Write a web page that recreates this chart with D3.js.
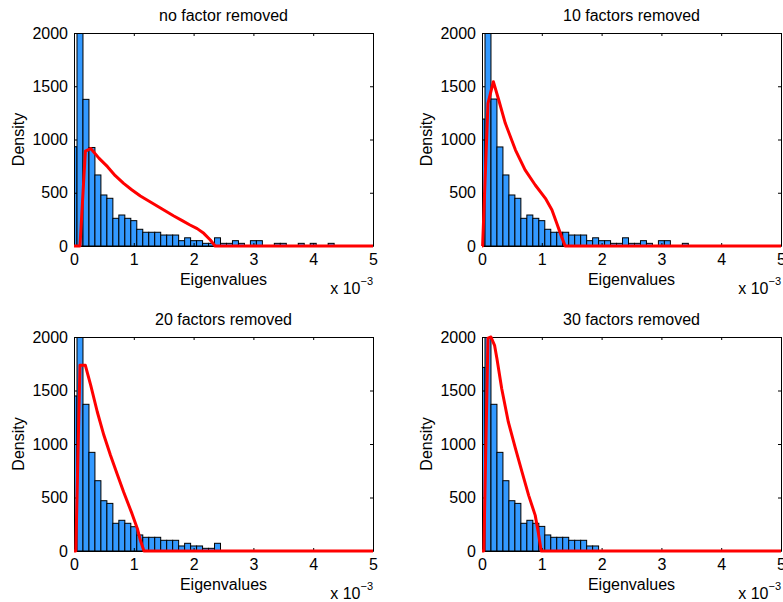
<!DOCTYPE html>
<html>
<head>
<meta charset="utf-8">
<script src="https://cdn.jsdelivr.net/npm/d3@7"></script>
<style>
  body { margin: 0; background: #fff; }
  svg { display: block; }
  text { font-family: "Liberation Sans", Arial, Helvetica, sans-serif; }
</style>
</head>
<body>
<svg id="chart" width="783" height="602"></svg>
<script>
// Eigenvalue histograms (x in units of 1e-3) with the fitted
// Marchenko-Pastur density drawn in red, for 0/10/20/30 factors removed.

const panelTitles = ["no factor removed", "10 factors removed", "20 factors removed", "30 factors removed"];
const xTicks = [0, 1, 2, 3, 4, 5];
const yTicks = [0, 500, 1000, 1500, 2000];
const binWidth = 0.1;

// histogram bin centres (x 10^-3)
const binCenters = [0, 0.1, 0.2, 0.3, 0.4, 0.5, 0.6, 0.7, 0.8, 0.9,
  1.0, 1.1, 1.2, 1.3, 1.4, 1.5, 1.6, 1.7, 1.8, 1.9,
  2.0, 2.1, 2.2, 2.3, 2.4, 2.5, 2.6, 2.7, 2.8, 2.9,
  3.0, 3.1, 3.2, 3.3, 3.4, 3.5, 3.6, 3.7, 3.8, 3.9,
  4.0, 4.1, 4.2, 4.3];

// empirical densities per bin
const densityNoFactor = [932, 2570, 1377, 925, 667, 479, 448, 260, 291, 260,
  238, 157, 129, 129, 129, 103, 103, 103, 50, 77,
  50, 50, 25, 25, 77, 25, 25, 50, 25, 0,
  50, 50, 0, 0, 25, 25, 0, 0, 25, 0,
  25, 0, 0, 25];
const density10 = [1192, 2410, 1380, 930, 667, 479, 448, 260, 291, 260,
  238, 157, 129, 129, 129, 103, 103, 103, 50, 77,
  50, 50, 25, 25, 77, 25, 25, 50, 25, 0,
  50, 50, 0, 0, 25, 0, 0, 0, 0, 0,
  0, 0, 0, 0];
const density20 = [1449, 2485, 1371, 922, 657, 470, 445, 259, 287, 259,
  227, 150, 128, 128, 128, 100, 100, 100, 47, 72,
  47, 47, 25, 25, 72, 0, 0, 0, 0, 0,
  0, 0, 0, 0, 0, 0, 0, 0, 0, 0,
  0, 0, 0, 0];
const density30 = [1716, 2460, 1371, 922, 657, 470, 445, 259, 287, 259,
  230, 150, 128, 128, 128, 100, 100, 100, 47, 47,
  0, 0, 0, 0, 0, 0, 0, 0, 0, 0,
  0, 0, 0, 0, 0, 0, 0, 0, 0, 0,
  0, 0, 0, 0];

// theoretical density curves
const mpXNoFactor = [0, 0.1, 0.19, 0.28, 0.42, 0.56, 0.69, 0.83, 0.97, 1.11, 1.25, 1.39, 1.53, 1.67, 1.81, 1.94, 2.06, 2.17, 2.28, 2.36, 5];
const mpYNoFactor = [0, 0, 890, 915, 823, 745, 660, 588, 526, 469, 423, 376, 329, 282, 238, 197, 163, 119, 56, 0, 0];
const mpX10 = [0, 0.01, 0.1, 0.19, 0.28, 0.39, 0.56, 0.72, 0.89, 1.06, 1.17, 1.25, 1.33, 1.39, 5];
const mpY10 = [0, 0, 1340, 1543, 1371, 1152, 901, 714, 573, 448, 338, 213, 88, 0, 0];
const mpX20 = [0, 0.03, 0.1, 0.19, 0.28, 0.39, 0.5, 0.61, 0.72, 0.83, 0.97, 1.06, 1.11, 1.17, 5];
const mpY20 = [0, 0, 1735, 1735, 1548, 1299, 1081, 894, 723, 551, 349, 209, 100, 0, 0];
const mpX30 = [0, 0.03, 0.1, 0.15, 0.21, 0.25, 0.33, 0.44, 0.56, 0.67, 0.78, 0.89, 0.94, 0.99, 5];
const mpY30 = [0, 0, 1990, 2000, 1922, 1797, 1517, 1206, 956, 738, 520, 333, 178, 0, 0];

const panels = [
  { title: panelTitles[0], dens: densityNoFactor, cx: mpXNoFactor, cy: mpYNoFactor, left: 74, top: 33, h: 213 },
  { title: panelTitles[1], dens: density10, cx: mpX10, cy: mpY10, left: 482, top: 33, h: 213 },
  { title: panelTitles[2], dens: density20, cx: mpX20, cy: mpY20, left: 74, top: 337, h: 214 },
  { title: panelTitles[3], dens: density30, cx: mpX30, cy: mpY30, left: 482, top: 337, h: 214 }
];

const W = 299;
const FONT = 16;
const svg = d3.select("#chart");
const defs = svg.append("defs");

function styleAxis(sel) {
  sel.attr("font-size", FONT)
     .attr("font-family", '"Liberation Sans", Arial, Helvetica, sans-serif');
  sel.selectAll("text").attr("fill", "#000");
}

panels.forEach((p, k) => {
  const H = p.h;
  const g = svg.append("g").attr("transform", `translate(${p.left},${p.top})`);
  const x = d3.scaleLinear().domain([0, 5]).range([0, W]);
  const y = d3.scaleLinear().domain([0, 2000]).range([H, 0]);

  defs.append("clipPath").attr("id", "plotClip" + k)
    .append("rect").attr("x", 0).attr("y", 0).attr("width", W).attr("height", H);

  // histogram bars
  const bins = binCenters.map((c, i) => ({ c, v: p.dens[i] })).filter(d => d.v > 0);
  g.append("g").attr("clip-path", `url(#plotClip${k})`)
    .selectAll("rect").data(bins).join("rect")
    .attr("x", d => x(d.c - binWidth / 2))
    .attr("y", d => y(d.v))
    .attr("width", x(binWidth) - x(0))
    .attr("height", d => y(0) - y(d.v))
    .attr("fill", "#3399ff")
    .attr("stroke", "#000")
    .attr("stroke-width", 1);

  // axes box with inward ticks on all four sides
  g.append("g").attr("transform", `translate(0,${H})`)
    .call(d3.axisBottom(x).tickValues(xTicks).tickSizeInner(-3).tickSizeOuter(0).tickPadding(8).tickFormat(d3.format("d")))
    .call(styleAxis);
  g.append("g")
    .call(d3.axisTop(x).tickValues(xTicks).tickSizeInner(-3).tickSizeOuter(0).tickFormat(""))
    .call(styleAxis);
  g.append("g")
    .call(d3.axisLeft(y).tickValues(yTicks).tickSizeInner(-3).tickSizeOuter(0).tickPadding(6).tickFormat(d3.format("d")))
    .call(styleAxis);
  g.append("g").attr("transform", `translate(${W},0)`)
    .call(d3.axisRight(y).tickValues(yTicks).tickSizeInner(-3).tickSizeOuter(0).tickFormat(""))
    .call(styleAxis);

  // theoretical density
  const pts = p.cx.map((v, i) => [v, p.cy[i]]);
  g.append("path")
    .attr("d", d3.line().x(d => x(d[0])).y(d => y(d[1]))(pts))
    .attr("fill", "none")
    .attr("stroke", "#ff0000")
    .attr("stroke-width", 3)
    .attr("stroke-linejoin", "round");

  // labels
  g.append("text").attr("x", W / 2).attr("y", -12)
    .attr("text-anchor", "middle").attr("font-size", FONT).text(p.title);
  g.append("text").attr("x", W / 2).attr("y", H + 39)
    .attr("text-anchor", "middle").attr("font-size", FONT).text("Eigenvalues");
  g.append("text").attr("transform", `translate(-50,${H / 2}) rotate(-90)`)
    .attr("text-anchor", "middle").attr("font-size", FONT).text("Density");
  const exp = g.append("text").attr("x", W).attr("y", H + 48)
    .attr("text-anchor", "end").attr("font-size", FONT);
  exp.append("tspan").text("x 10");
  exp.append("tspan").attr("dy", -9).attr("font-size", 11).text("\u22123");
});
</script>
</body>
</html>
